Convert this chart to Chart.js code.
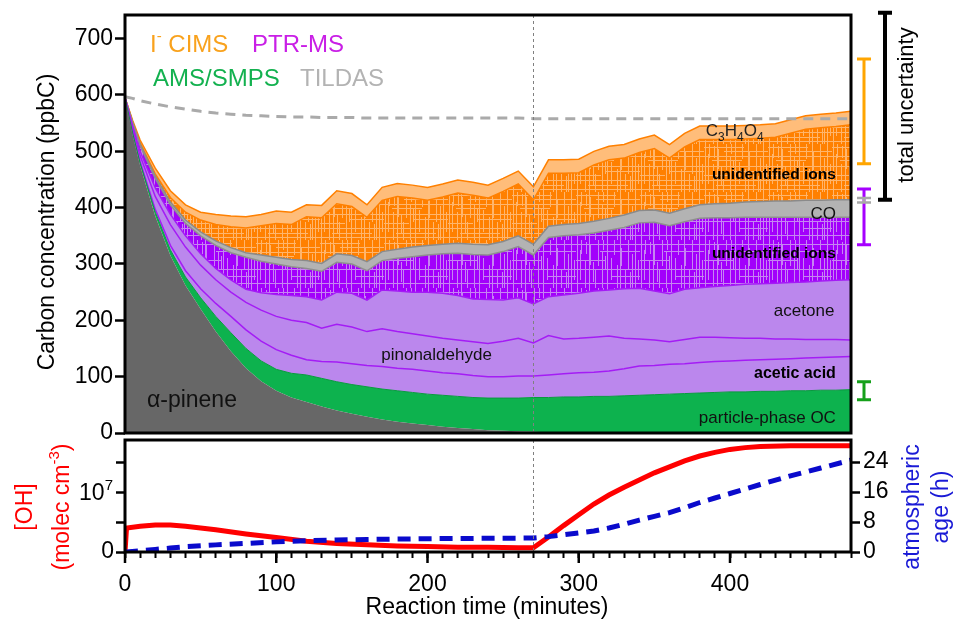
<!DOCTYPE html>
<html>
<head>
<meta charset="utf-8">
<title>Carbon closure during alpha-pinene oxidation</title>
<script src="https://cdn.jsdelivr.net/npm/chart.js@4.4.1/dist/chart.umd.min.js"></script>
<style>
  body { margin: 0; background: #fff; }
  .panel { position: absolute; left: 0; }
</style>
</head>
<body>
<canvas id="carbonChart" class="panel" width="955" height="440" style="top:0"></canvas>
<canvas id="ohChart" class="panel" width="955" height="184" style="top:436px"></canvas>
<script>
// reaction time (minutes) for the carbon budget
const times = [0, 5, 10, 20, 30, 40, 50, 60, 70, 80, 90, 100, 110, 120, 130, 140, 150, 160, 170, 180, 190, 200, 210, 220, 230, 240, 250, 260, 270, 280, 290, 300, 310, 320, 330, 340, 350, 360, 370, 380, 390, 400, 410, 420, 430, 440, 450, 460, 470, 480];

// cumulative tops of each band (ppbC), bottom to top
const alphaPinene = [595, 530, 475, 385, 315, 262, 220, 180, 145, 115, 92, 75, 63, 55, 47, 40, 34, 29, 24, 20, 17, 14, 11, 9, 7, 5, 4, 3, 2, 1.5, 1, 1, 1, 0.8, 0.8, 0.6, 0.6, 0.5, 0.5, 0.4, 0.4, 0.3, 0.3, 0.3, 0.2, 0.2, 0.2, 0.2, 0.1, 0.1];
const particleOC = [595, 533, 479, 392, 325, 277, 240, 207, 178, 150, 128, 113, 106, 103, 97, 91, 86, 82, 78, 75, 72, 69, 67, 65, 63, 62, 62, 62, 63, 63, 64, 64, 65, 65, 66, 67, 68, 69, 70, 71, 72, 73, 73, 74, 74, 75, 75, 76, 76, 77];
const aceticAcid = [595, 535, 482, 397, 333, 288, 256, 230, 207, 183, 163, 148, 138, 130, 127, 126, 123, 120, 118, 115, 113, 110, 107, 105, 102, 100, 100, 101, 101, 103, 105, 107, 108, 110, 114, 119, 120, 122, 123, 125, 127, 128, 129, 130, 131, 132, 133, 134, 135, 136];
const pinonaldehyde = [595, 540, 492, 420, 370, 330, 298, 272, 250, 232, 218, 207, 200, 196, 186, 193, 188, 180, 185, 180, 176, 172, 168, 165, 162, 159, 163, 168, 160, 173, 167, 168, 170, 172, 168, 167, 165, 162, 166, 170, 170, 169, 168, 168, 167, 167, 166, 166, 166, 165];
const acetone = [595, 545, 500, 435, 388, 350, 318, 292, 272, 255, 249, 246, 244, 242, 236, 250, 248, 236, 254, 252, 250, 250, 248, 244, 238, 237, 236, 240, 229, 242, 245, 248, 252, 254, 256, 257, 252, 247, 255, 258, 260, 262, 264, 265, 266, 267, 268, 270, 271, 272];
const ptrUnidentified = [595, 550, 510, 452, 405, 372, 350, 333, 320, 312, 305, 300, 295, 292, 287, 303, 300, 288, 306, 310, 313, 316, 318, 319, 317, 316, 322, 331, 316, 347, 350, 352, 355, 360, 365, 373, 374, 368, 375, 381, 382, 382, 383, 383, 383, 383, 383, 383, 383, 383];
const carbonMonoxide = [595, 552, 513, 456, 410, 378, 357, 341, 329, 320, 316, 312, 308, 306, 301, 318, 315, 304, 322, 326, 330, 333, 335, 337, 335, 334, 340, 350, 335, 367, 370, 372, 376, 381, 387, 395, 396, 390, 398, 405, 407, 408, 410, 411, 412, 412, 413, 413, 414, 414];
const cimsUnidentified = [595, 553, 515, 460, 418, 392, 378, 370, 366, 364, 368, 372, 370, 384, 382, 407, 402, 383, 413, 420, 417, 413, 419, 426, 422, 417, 429, 442, 414, 461, 461, 462, 476, 485, 488, 498, 505, 488, 508, 521, 521, 521, 522, 523, 525, 532, 539, 542, 544, 547];
const c3h4o4 = [595, 555, 520, 470, 430, 405, 392, 388, 385, 384, 388, 394, 392, 405, 404, 430, 425, 405, 436, 443, 440, 436, 442, 449, 445, 440, 452, 465, 437, 485, 485, 486, 500, 509, 512, 522, 529, 512, 532, 545, 545, 545, 546, 547, 549, 556, 563, 566, 568, 571];
const tildasTotal = [597, 594, 590, 584, 579, 575, 571, 568, 566, 564, 563, 562, 561, 561, 560, 560, 560, 559, 559, 559, 559, 559, 559, 559, 559, 559, 559, 559, 558, 558, 558, 558, 558, 558, 558, 558, 558, 558, 558, 558, 558, 558, 558, 558, 558, 558, 558, 558, 558, 558];

const markerTime = 270;

// uncertainty ranges (ppbC) shown right of the plot
const uncNames = ['I- CIMS', 'PTR-MS', 'TILDAS', 'AMS/SMPS', 'total'];
const uncLow = [478, 334, 409, 59, 414];
const uncHigh = [664, 433, 417, 91, 746];

// lower panel
const ohTimes = [0, 1, 10, 20, 30, 40, 60, 80, 100, 120, 140, 160, 180, 200, 220, 240, 260, 270, 280, 290, 300, 310, 320, 330, 340, 350, 360, 370, 380, 390, 400, 410, 420, 440, 460, 480];
const ohConc = [0, 4.0e6, 4.3e6, 4.5e6, 4.5e6, 4.3e6, 3.7e6, 3.0e6, 2.4e6, 1.8e6, 1.4e6, 1.2e6, 1.0e6, 0.9e6, 0.8e6, 0.8e6, 0.7e6, 0.7e6, 2.5e6, 4.4e6, 6.2e6, 8.0e6, 9.5e6, 10.8e6, 12.0e6, 13.2e6, 14.2e6, 15.2e6, 16.0e6, 16.6e6, 17.1e6, 17.4e6, 17.6e6, 17.7e6, 17.7e6, 17.7e6];
const atmAge = [0, 0.02, 0.35, 0.7, 1.05, 1.4, 1.9, 2.3, 2.7, 3.0, 3.2, 3.35, 3.45, 3.55, 3.6, 3.65, 3.7, 3.75, 4.1, 4.6, 5.1, 5.6, 6.4, 7.4, 8.5, 9.5, 10.5, 11.8, 13.2, 14.4, 15.6, 16.8, 18.0, 20.3, 22.4, 24.5];

const carbonTicks = [0, 100, 200, 300, 400, 500, 600, 700];
const ohTicks = [0, 5e6, 1e7, 1.5e7];
const ageTicks = [0, 8, 16, 24];

const FONT = '"Liberation Sans", Arial, sans-serif';
Chart.defaults.font.family = FONT;
Chart.defaults.color = '#000';

const font = (size, weight) => `${weight || 'normal'} ${size}px ${FONT}`;
const toPts = (xs, ys) => xs.map((t, i) => ({ x: t, y: ys[i] }));
const fixTicks = values => function (s) { s.ticks = values.map(v => ({ value: v })); };

// streaky fill used for the many small unidentified-ion layers
function texture(base, light, cols, rows) {
    const c = document.createElement('canvas');
    c.width = 64; c.height = 48;
    const g = c.getContext('2d');
    g.fillStyle = base;
    g.fillRect(0, 0, 64, 48);
    g.fillStyle = light;
    cols.forEach(([x, y, h]) => g.fillRect(x, y, 1, h));
    rows.forEach(([x, y, w]) => g.fillRect(x, y, w, 1));
    return g.createPattern(c, 'repeat');
}

function richText(ctx, parts, x, y, opts) {
    const { align = 'left', rotate = 0, color = '#000' } = opts || {};
    ctx.save();
    ctx.translate(x, y);
    ctx.rotate(rotate);
    ctx.fillStyle = color;
    ctx.textAlign = 'left';
    ctx.textBaseline = 'alphabetic';
    const widths = parts.map(p => { ctx.font = font(p.size, p.weight); return ctx.measureText(p.text).width; });
    const total = widths.reduce((s, w) => s + w, 0);
    let cx = align === 'right' ? -total : align === 'center' ? -total / 2 : 0;
    const base = 0.36 * parts[0].size;
    parts.forEach((p, i) => {
        ctx.font = font(p.size, p.weight);
        ctx.fillText(p.text, cx, base + (p.dy || 0));
        cx += widths[i];
    });
    ctx.restore();
}
const plain = (text, size, weight) => [{ text, size, weight }];

function frame(ctx, a) {
    ctx.save();
    ctx.strokeStyle = '#000';
    ctx.lineWidth = 3;
    ctx.strokeRect(a.left, a.top, a.right - a.left, a.bottom - a.top);
    ctx.restore();
}

function markerLine(ctx, px, a) {
    ctx.save();
    ctx.strokeStyle = '#808080';
    ctx.lineWidth = 1;
    ctx.setLineDash([3, 3]);
    ctx.beginPath();
    ctx.moveTo(Math.round(px) + 0.5, a.top);
    ctx.lineTo(Math.round(px) + 0.5, a.bottom);
    ctx.stroke();
    ctx.restore();
}

function layer(label, values, fill, bg, line, width) {
    return {
        label: label,
        data: toPts(times, values),
        fill: fill,
        backgroundColor: bg,
        borderColor: line,
        borderWidth: width,
        pointRadius: 0,
        tension: 0
    };
}

const streakCols = [[1, 0, 48], [4, 10, 30], [5, 0, 14], [9, 20, 28], [10, 2, 12], [13, 0, 48], [14, 5, 20], [17, 22, 20],
    [19, 30, 18], [22, 0, 26], [26, 12, 36], [27, 0, 10], [29, 16, 14], [31, 0, 48], [35, 18, 22], [38, 0, 15],
    [41, 25, 23], [44, 0, 48], [45, 8, 18], [49, 30, 18], [52, 0, 30], [54, 32, 16], [56, 14, 34], [59, 0, 48], [62, 20, 20]];
const orangeRows = [[0, 3, 40], [20, 7, 44], [0, 12, 64], [8, 16, 30], [0, 22, 64], [30, 27, 34], [0, 31, 25],
    [0, 36, 64], [12, 41, 40], [0, 45, 64]];
const purpleRows = [[0, 4, 64], [24, 11, 40], [0, 20, 30], [0, 29, 64], [36, 36, 28], [0, 43, 64]];

const orangeTex = texture('#ff8000', '#ffb56c', streakCols, orangeRows);
const purpleTex = texture('#a200fb', '#c684f2', streakCols, purpleRows);

const carbonDecor = {
    id: 'carbonDecor',
    afterDatasetsDraw(chart) {
        const { ctx, chartArea: a, scales: { x } } = chart;
        markerLine(ctx, x.getPixelForValue(markerTime), a);
    },
    afterDraw(chart) {
        const { ctx, chartArea: a, scales: { x, y } } = chart;
        frame(ctx, a);
        const px = t => x.getPixelForValue(t);
        const py = v => y.getPixelForValue(v);

        // band labels
        richText(ctx, [
            { text: 'C', size: 17 }, { text: '3', size: 12, dy: 5 },
            { text: 'H', size: 17 }, { text: '4', size: 12, dy: 5 },
            { text: 'O', size: 17 }, { text: '4', size: 12, dy: 5 }
        ], px(384), py(538), { color: '#222' });
        richText(ctx, plain('unidentified ions', 15.5, 'bold'), px(470), py(461), { align: 'right' });
        richText(ctx, plain('CO', 17), px(470), py(391), { align: 'right', color: '#111' });
        richText(ctx, plain('unidentified ions', 15.5, 'bold'), px(470), py(320), { align: 'right' });
        richText(ctx, plain('acetone', 17), px(469), py(218), { align: 'right', color: '#111' });
        richText(ctx, plain('pinonaldehyde', 17), px(206), py(140), { align: 'center', color: '#111' });
        richText(ctx, plain('acetic acid', 16, 'bold'), px(470), py(108), { align: 'right' });
        richText(ctx, plain('particle-phase OC', 17), px(470), py(29), { align: 'right', color: '#111' });
        richText(ctx, plain('α-pinene', 23), px(14.5), py(60), { color: '#111' });

        // instrument key
        richText(ctx, [{ text: 'I', size: 24 }, { text: '-', size: 15, dy: -11 }, { text: ' CIMS', size: 24 }],
            a.left + 25, 43, { color: '#f9a21d' });
        richText(ctx, plain('PTR-MS', 24), a.left + 127, 43, { color: '#c91fe6' });
        richText(ctx, plain('AMS/SMPS', 24), a.left + 28, 77, { color: '#13b14f' });
        richText(ctx, plain('TILDAS', 24), a.left + 175, 77, { color: '#b3b3b3' });

        // uncertainty bars
        const barStyle = [
            { dx: 13, color: '#ffa500', w: 3 },
            { dx: 13, color: '#a600ff', w: 3 },
            { dx: 13, color: '#a8a8a8', w: 2.5 },
            { dx: 13, color: '#15a01a', w: 3 },
            { dx: 34, color: '#000', w: 4 }
        ];
        ctx.save();
        uncLow.forEach((lo, i) => {
            const s = barStyle[i];
            const bx = a.right + s.dx;
            const y1 = py(lo), y2 = py(uncHigh[i]);
            ctx.strokeStyle = s.color;
            ctx.lineWidth = s.w;
            ctx.beginPath();
            ctx.moveTo(bx, y1); ctx.lineTo(bx, y2);
            ctx.moveTo(bx - 7, y1); ctx.lineTo(bx + 7, y1);
            ctx.moveTo(bx - 7, y2); ctx.lineTo(bx + 7, y2);
            ctx.stroke();
        });
        ctx.restore();
        richText(ctx, plain('total uncertainty', 22), a.right + 54, 105, { align: 'center', rotate: -Math.PI / 2 });

        // axis title
        richText(ctx, plain('Carbon concentration (ppbC)', 23), 46, 222, { align: 'center', rotate: -Math.PI / 2 });
    }
};

new Chart(document.getElementById('carbonChart'), {
    type: 'line',
    data: {
        datasets: [
            layer('α-pinene', alphaPinene, 'origin', '#676767', '#676767', 0),
            layer('particle-phase OC', particleOC, '-1', '#0db24e', '#0a9840', 1),
            layer('acetic acid', aceticAcid, '-1', '#bb87ed', '#a41cf5', 1.5),
            layer('pinonaldehyde', pinonaldehyde, '-1', '#bb87ed', '#a41cf5', 1.5),
            layer('acetone', acetone, '-1', '#bb87ed', '#a41cf5', 1.5),
            layer('unidentified ions (PTR-MS)', ptrUnidentified, '-1', purpleTex, '#8f8f8f', 1.5),
            layer('CO', carbonMonoxide, '-1', '#b3b3b3', '#8a8a8a', 1.5),
            layer('unidentified ions (CIMS)', cimsUnidentified, '-1', orangeTex, '#ff8000', 1.5),
            layer('C3H4O4', c3h4o4, '-1', '#ffbd7a', '#ff8000', 1.5),
            {
                label: 'TILDAS',
                data: toPts(times, tildasTotal),
                fill: false,
                borderColor: '#aaaaaa',
                borderWidth: 3,
                borderDash: [10, 7],
                pointRadius: 0,
                order: -1
            }
        ]
    },
    options: {
        responsive: false,
        animation: false,
        devicePixelRatio: 1,
        layout: { padding: { top: 15, bottom: 7, left: 0, right: 104 } },
        plugins: { legend: { display: false }, tooltip: { enabled: false } },
        scales: {
            x: { type: 'linear', display: false, min: 0, max: 480 },
            y: {
                min: 0,
                max: 742,
                afterBuildTicks: fixTicks(carbonTicks),
                ticks: { font: { size: 23 }, color: '#000', padding: 2 },
                grid: { drawOnChartArea: false, tickLength: 10, tickWidth: 2.5, tickColor: '#000' },
                border: { display: false },
                afterFit(s) { s.width = 125; s.paddingTop = 0; s.paddingBottom = 0; }
            }
        }
    },
    plugins: [carbonDecor]
});

const ohDecor = {
    id: 'ohDecor',
    afterDatasetsDraw(chart) {
        const { ctx, chartArea: a, scales: { x } } = chart;
        markerLine(ctx, x.getPixelForValue(markerTime), a);
    },
    afterDraw(chart) {
        const { ctx, chartArea: a, scales: { x, yOH } } = chart;
        frame(ctx, a);
        // longer ticks every 100 min
        ctx.save();
        ctx.strokeStyle = '#000';
        ctx.lineWidth = 2.5;
        [0, 100, 200, 300, 400].forEach(t => {
            const tx = x.getPixelForValue(t);
            ctx.beginPath();
            ctx.moveTo(tx, a.bottom);
            ctx.lineTo(tx, a.bottom + 11);
            ctx.stroke();
        });
        ctx.restore();

        // 10^7 tick label with a raised exponent
        richText(ctx, [{ text: '10', size: 23 }, { text: '7', size: 15, dy: -10 }],
            a.left - 12, yOH.getPixelForValue(1e7), { align: 'right' });

        const mid = (a.top + a.bottom) / 2 + 11;
        richText(ctx, plain('[OH]', 23), 24, mid, { align: 'center', rotate: -Math.PI / 2, color: '#ff0000' });
        richText(ctx, [{ text: '(molec cm', size: 23 }, { text: '-3', size: 15, dy: -10 }, { text: ')', size: 23 }],
            61, mid, { align: 'center', rotate: -Math.PI / 2, color: '#ff0000' });
        richText(ctx, plain('atmospheric', 23), a.right + 60, mid, { align: 'center', rotate: -Math.PI / 2, color: '#1a1ad6' });
        richText(ctx, plain('age (h)', 23), a.right + 89, mid, { align: 'center', rotate: -Math.PI / 2, color: '#1a1ad6' });
        richText(ctx, plain('Reaction time (minutes)', 23), 487, a.bottom + 54, { align: 'center' });
    }
};

const tickGrid = { drawOnChartArea: false, tickLength: 9, tickWidth: 2.5, tickColor: '#000' };

new Chart(document.getElementById('ohChart'), {
    type: 'line',
    data: {
        datasets: [
            {
                label: 'atmospheric age',
                data: toPts(ohTimes, atmAge),
                yAxisID: 'yAge',
                borderColor: '#0a0acc',
                borderWidth: 5,
                borderDash: [13, 8],
                pointRadius: 0,
                fill: false
            },
            {
                label: '[OH]',
                data: toPts(ohTimes, ohConc),
                yAxisID: 'yOH',
                borderColor: '#ff0000',
                borderWidth: 5,
                pointRadius: 0,
                fill: false
            }
        ]
    },
    options: {
        responsive: false,
        animation: false,
        devicePixelRatio: 1,
        layout: { padding: { top: 4, bottom: 0, left: 0, right: 0 } },
        plugins: { legend: { display: false }, tooltip: { enabled: false } },
        scales: {
            x: {
                type: 'linear',
                min: 0,
                max: 480,
                ticks: {
                    stepSize: 10, autoSkip: false, maxRotation: 0, includeBounds: false,
                    font: { size: 23 }, color: '#000', padding: 13,
                    callback: v => (v % 100 === 0 ? String(v) : '')
                },
                grid: { drawOnChartArea: false, tickLength: 6, tickWidth: 2, tickColor: '#000' },
                border: { display: false },
                afterFit(s) { s.height = 68; s.paddingLeft = 0; s.paddingRight = 0; }
            },
            yOH: {
                position: 'left',
                min: 0,
                max: 1.867e7,
                afterBuildTicks: fixTicks(ohTicks),
                ticks: {
                    autoSkip: false, font: { size: 23 }, color: '#000', padding: 2,
                    callback: v => (v === 0 ? '0' : '')
                },
                grid: tickGrid,
                border: { display: false },
                afterFit(s) { s.width = 125; s.paddingTop = 0; s.paddingBottom = 0; }
            },
            yAge: {
                position: 'right',
                min: 0,
                max: 29.87,
                afterBuildTicks: fixTicks(ageTicks),
                ticks: { autoSkip: false, font: { size: 23 }, color: '#000', padding: 3 },
                grid: tickGrid,
                border: { display: false },
                afterFit(s) { s.width = 104; s.paddingTop = 0; s.paddingBottom = 0; }
            }
        }
    },
    plugins: [ohDecor]
});
</script>
</body>
</html>
